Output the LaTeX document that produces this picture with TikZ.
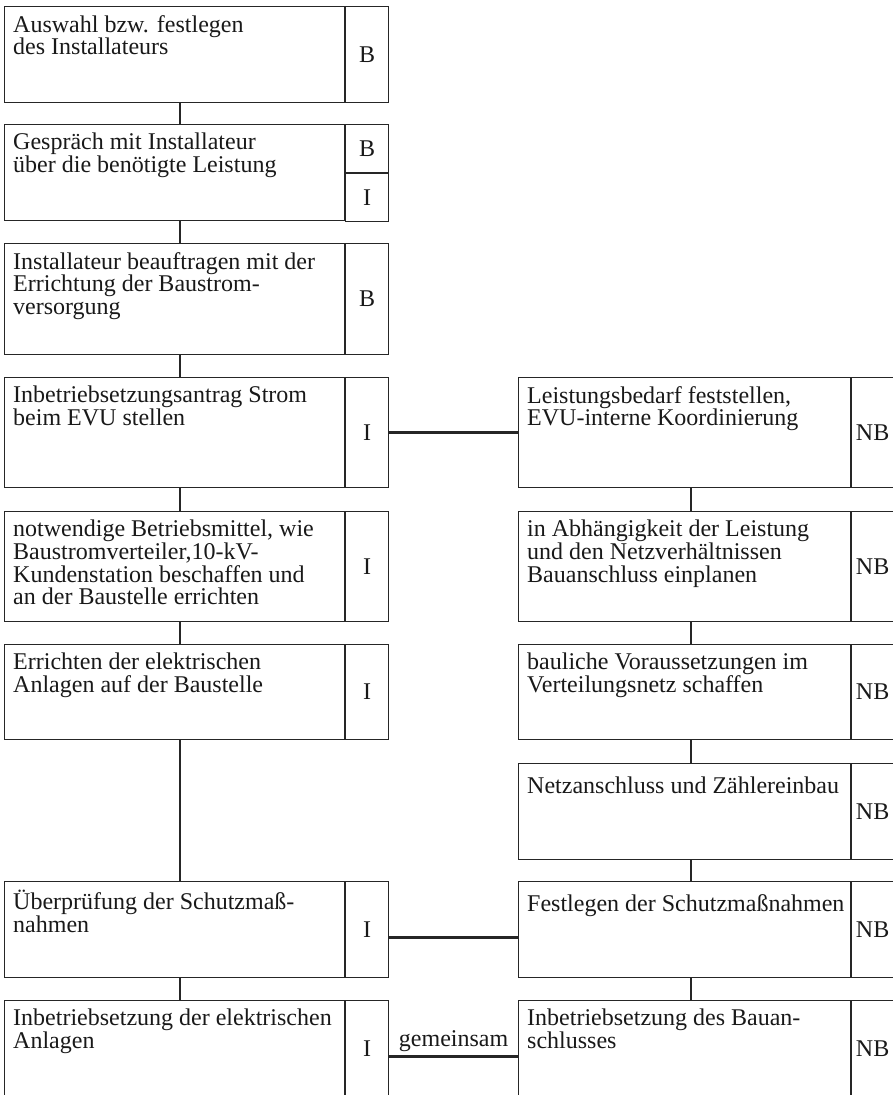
\documentclass[tikz,border=0pt]{standalone}
\usepackage{fontspec}
\setmainfont{Liberation Serif}
\tikzset{
  feld/.style={draw=black!85, line width=1.1pt, anchor=north west, inner sep=0pt},
  kenn/.style={draw=black!85, line width=1.1pt, anchor=north west, inner sep=0pt, minimum width=#1},
  txt/.style={anchor=north west, align=left, inner xsep=9pt, inner ysep=9pt,
    execute at begin node=\rule{0pt}{21pt}},
  verb/.style={draw=black!85, line width=2.2pt}
}
\begin{document}
\begin{tikzpicture}[x=1pt,y=-1pt,
  every node/.style={font=\fontsize{24}{22.7}\selectfont, text=black!90}]
\useasboundingbox (0,0) rectangle (893,1095);
% linke Spalte
\node[feld, minimum width=340pt, minimum height=96pt] (L1) at (4,6) {};
\node[txt] at (L1.north west) {Auswahl bzw. festlegen\\des Installateurs};
\node[kenn=43pt, minimum height=96pt] (kL1) at (L1.north east) {B};
\node[feld, minimum width=340pt, minimum height=96pt] (L2) at (4,124) {};
\node[txt] at (L2.north west) {Gespräch mit Installateur\\über die benötigte Leistung};
\node[kenn=43pt, minimum height=48pt] (kL2a) at (L2.north east) {B};
\node[kenn=43pt, minimum height=48pt] (kL2b) at (kL2a.south west) {I};
\node[feld, minimum width=340pt, minimum height=111pt] (L3) at (4,243) {};
\node[txt] at (L3.north west) {Installateur beauftragen mit der\\Errichtung der Baustrom-\\versorgung};
\node[kenn=43pt, minimum height=111pt] (kL3) at (L3.north east) {B};
\node[feld, minimum width=340pt, minimum height=110pt] (L4) at (4,377) {};
\node[txt] at (L4.north west) {Inbetriebsetzungsantrag Strom\\beim EVU stellen};
\node[kenn=43pt, minimum height=110pt] (kL4) at (L4.north east) {I};
\node[feld, minimum width=340pt, minimum height=110pt] (L5) at (4,511) {};
\node[txt] at (L5.north west) {notwendige Betriebsmittel, wie\\Baustromverteiler,10-kV-\\Kundenstation beschaffen und\\an der Baustelle errichten};
\node[kenn=43pt, minimum height=110pt] (kL5) at (L5.north east) {I};
\node[feld, minimum width=340pt, minimum height=95pt] (L6) at (4,644) {};
\node[txt] at (L6.north west) {Errichten der elektrischen\\Anlagen auf der Baustelle};
\node[kenn=43pt, minimum height=95pt] (kL6) at (L6.north east) {I};
\node[feld, minimum width=340pt, minimum height=96pt] (L8) at (4,881) {};
\node[txt] at (L8.north west) {Überprüfung der Schutzmaß-\\nahmen};
\node[kenn=43pt, minimum height=96pt] (kL8) at (L8.north east) {I};
\node[feld, minimum width=340pt, minimum height=96pt] (L9) at (4,1000) {};
\node[txt] at (L9.north west) {Inbetriebsetzung der elektrischen\\Anlagen};
\node[kenn=43pt, minimum height=96pt] (kL9) at (L9.north east) {I};
% rechte Spalte
\node[feld, minimum width=332pt, minimum height=110pt] (R4) at (518,377) {};
\node[txt] at (R4.north west) {Leistungsbedarf feststellen,\\EVU-interne Koordinierung};
\node[kenn=42pt, minimum height=110pt] (kR4) at (R4.north east) {NB};
\node[feld, minimum width=332pt, minimum height=110pt] (R5) at (518,511) {};
\node[txt] at (R5.north west) {in Abhängigkeit der Leistung\\und den Netzverhältnissen\\Bauanschluss einplanen};
\node[kenn=42pt, minimum height=110pt] (kR5) at (R5.north east) {NB};
\node[feld, minimum width=332pt, minimum height=95pt] (R6) at (518,644) {};
\node[txt] at (R6.north west) {bauliche Voraussetzungen im\\Verteilungsnetz schaffen};
\node[kenn=42pt, minimum height=95pt] (kR6) at (R6.north east) {NB};
\node[feld, minimum width=332pt, minimum height=96pt] (R7) at (518,763) {};
\node[txt] at (R7.north west) {Netzanschluss und Zählereinbau};
\node[kenn=42pt, minimum height=96pt] (kR7) at (R7.north east) {NB};
\node[feld, minimum width=332pt, minimum height=96pt] (R8) at (518,881) {};
\node[txt] at (R8.north west) {Festlegen der Schutzmaßnahmen};
\node[kenn=42pt, minimum height=96pt] (kR8) at (R8.north east) {NB};
\node[feld, minimum width=332pt, minimum height=96pt] (R9) at (518,1000) {};
\node[txt] at (R9.north west) {Inbetriebsetzung des Bauan-\\schlusses};
\node[kenn=42pt, minimum height=96pt] (kR9) at (R9.north east) {NB};
% Verbindungen
\draw[verb] ([xshift=176pt]L1.south west) -- ([xshift=176pt]L2.north west);
\draw[verb] ([xshift=176pt]L2.south west) -- ([xshift=176pt]L3.north west);
\draw[verb] ([xshift=176pt]L3.south west) -- ([xshift=176pt]L4.north west);
\draw[verb] ([xshift=176pt]L4.south west) -- ([xshift=176pt]L5.north west);
\draw[verb] ([xshift=176pt]L5.south west) -- ([xshift=176pt]L6.north west);
\draw[verb] ([xshift=176pt]L6.south west) -- ([xshift=176pt]L8.north west);
\draw[verb] ([xshift=176pt]L8.south west) -- ([xshift=176pt]L9.north west);
\draw[verb] ([xshift=173pt]R4.south west) -- ([xshift=173pt]R5.north west);
\draw[verb] ([xshift=173pt]R5.south west) -- ([xshift=173pt]R6.north west);
\draw[verb] ([xshift=173pt]R6.south west) -- ([xshift=173pt]R7.north west);
\draw[verb] ([xshift=173pt]R7.south west) -- ([xshift=173pt]R8.north west);
\draw[verb] ([xshift=173pt]R8.south west) -- ([xshift=173pt]R9.north west);
\draw[verb] (kL4.east) -- (R4.west);
\draw[verb] ([yshift=-8pt]kL8.east) -- ([yshift=-8pt]R8.west);
\draw[verb] ([yshift=-8pt]kL9.east) -- node[above, inner sep=4pt] (gem) {gemeinsam} ([yshift=-8pt]R9.west);
\end{tikzpicture}
\end{document}
